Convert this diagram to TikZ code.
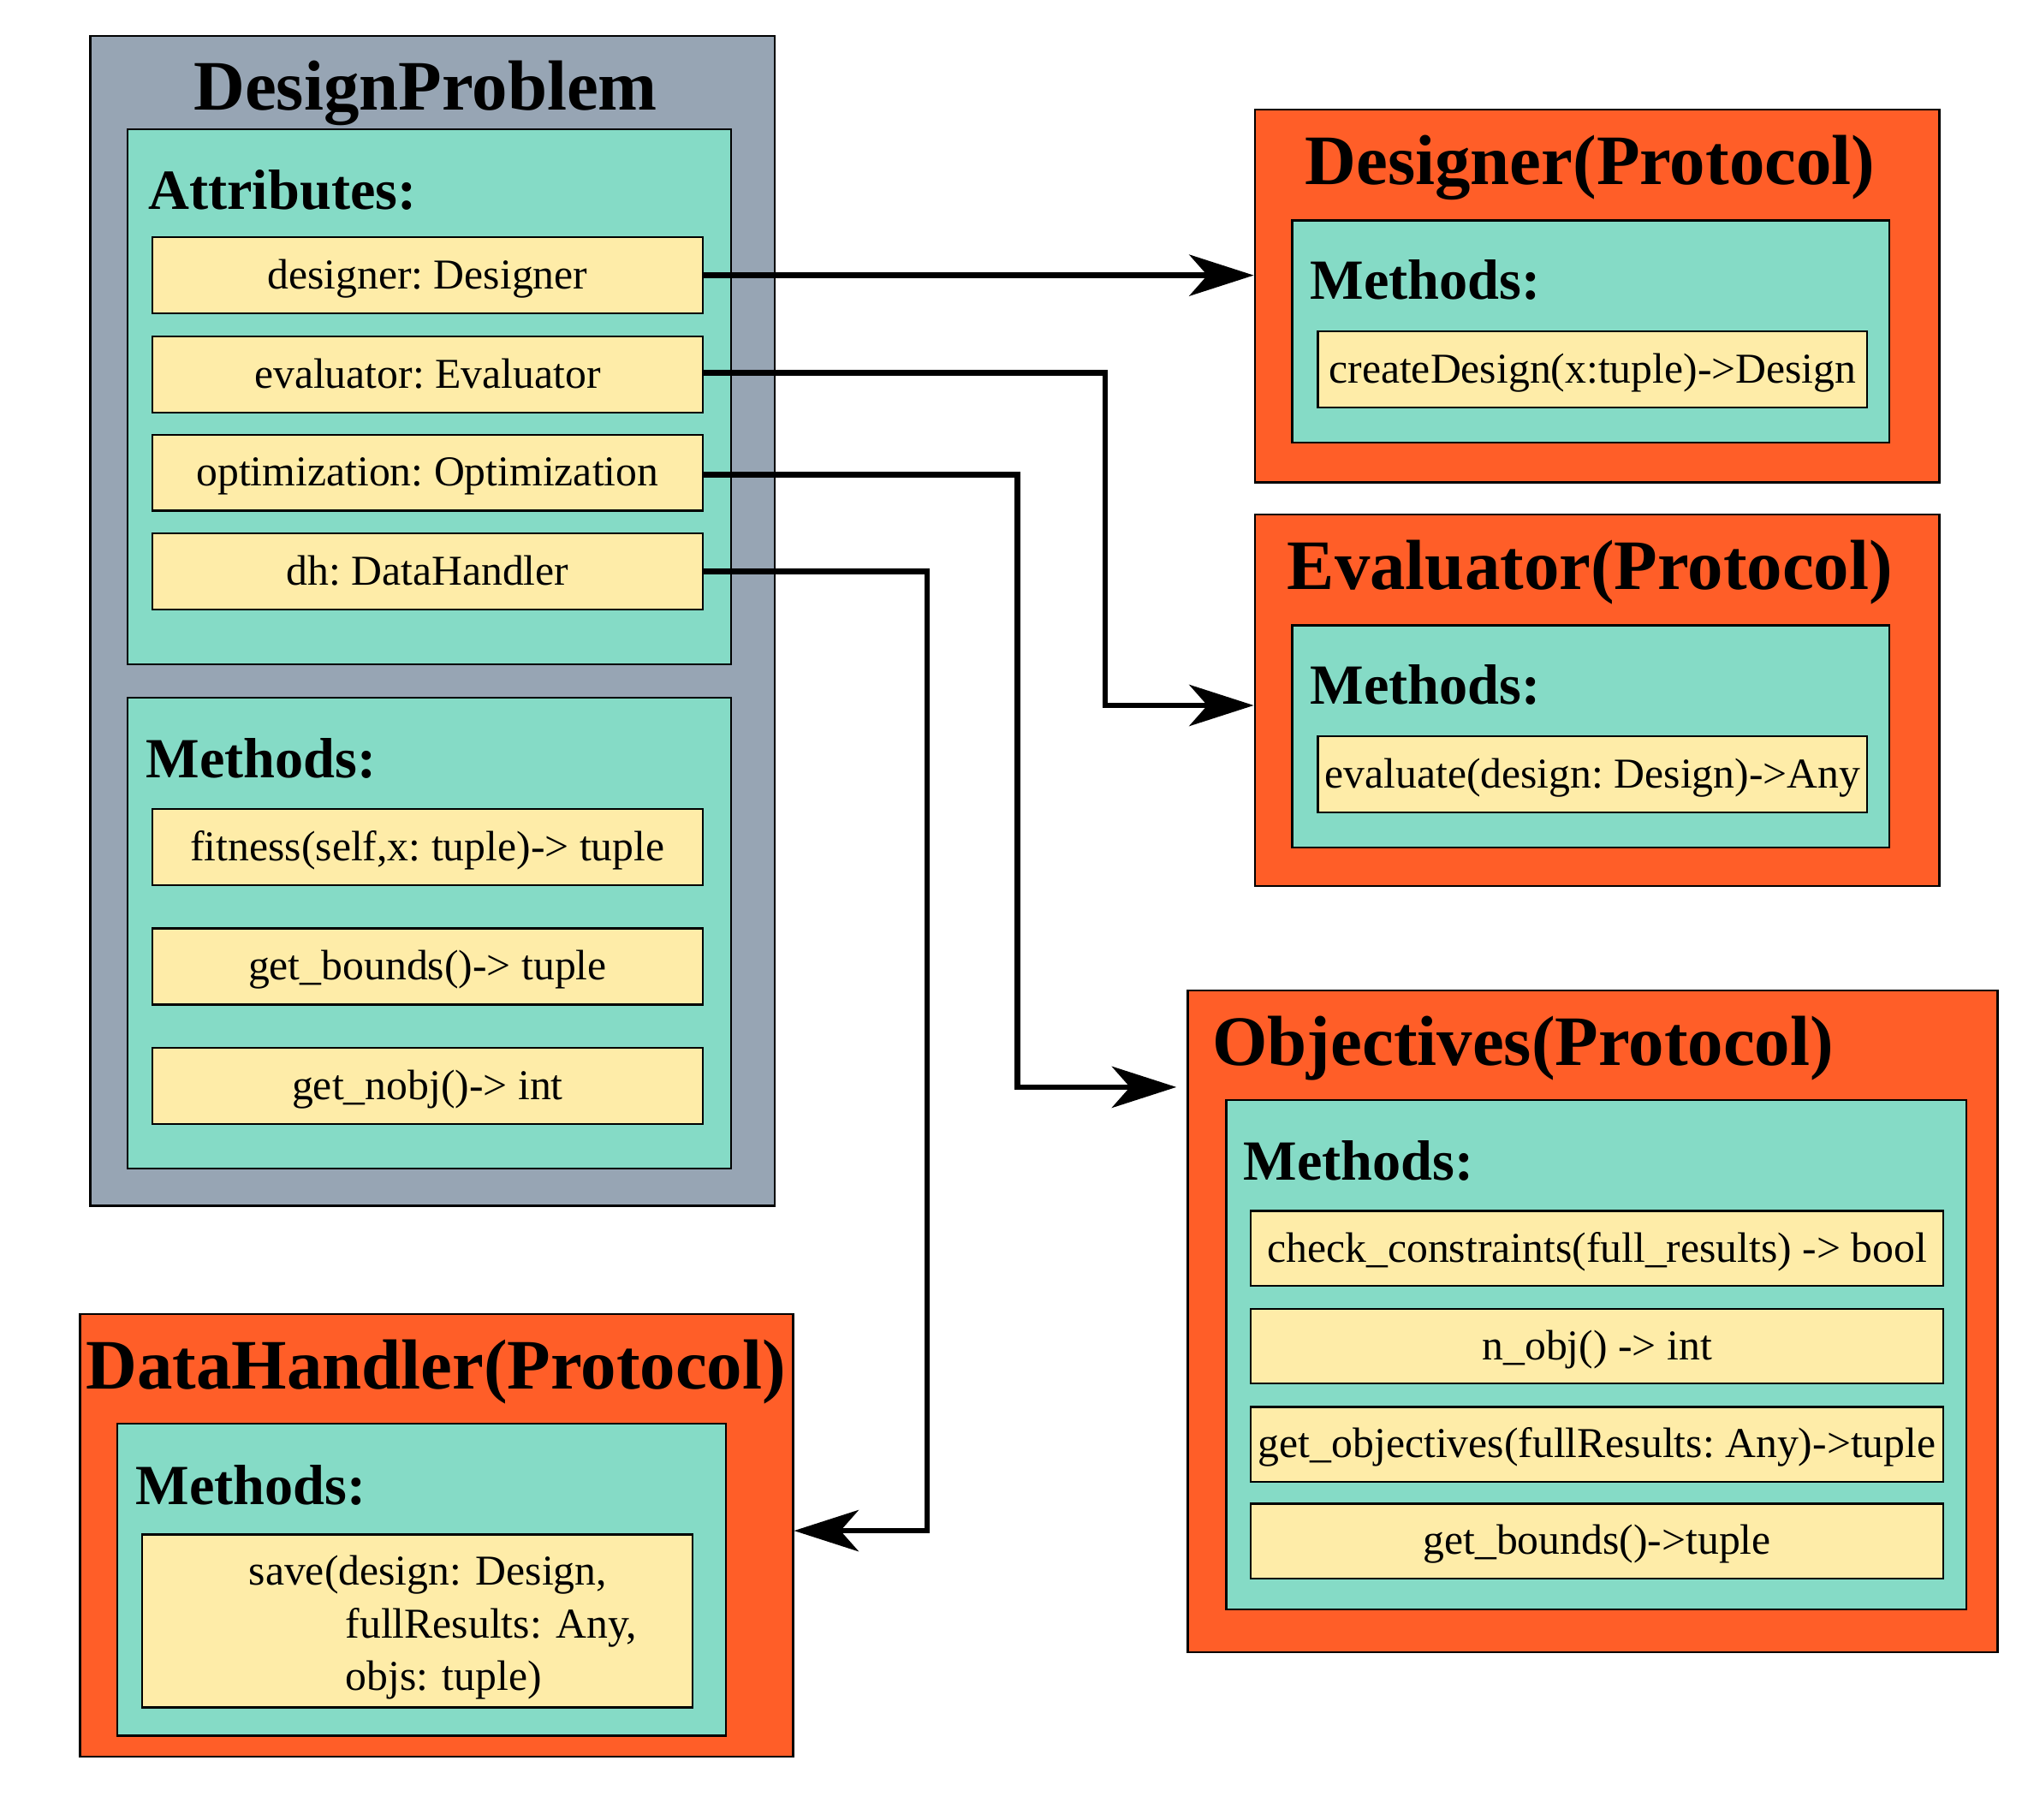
\documentclass[tikz,border=0pt]{standalone}
\usepackage{fontspec}
\setmainfont{Liberation Serif}
\usetikzlibrary{arrows.meta}
\frenchspacing
\definecolor{grayblue}{RGB}{151,165,180}
\definecolor{teal2}{RGB}{133,219,198}
\definecolor{cream}{RGB}{254,236,168}
\definecolor{orange2}{RGB}{255,94,40}
\tikzset{
  outerbox/.style={draw=black, line width=1.5pt, inner sep=0pt},
  grpbox/.style={draw=black, line width=1.5pt, fill=teal2, inner sep=0pt},
  itembase/.style={draw=black, line width=1.5pt, fill=cream, inner sep=0pt,
    font=\fontsize{33}{41}\selectfont},
  itembox/.style={itembase, text height=26pt, text depth=5pt},
  bodytext/.style={inner sep=0pt, font=\fontsize{33}{41}\selectfont},
  titletext/.style={inner sep=0pt, anchor=base, font=\fontsize{55}{60}\selectfont\bfseries},
  headtext/.style={inner sep=0pt, anchor=base west, font=\fontsize{44}{50}\selectfont\bfseries},
  conn/.style={draw=black, line width=4.5pt, -{Stealth[length=50pt,width=32pt,inset=14pt]}}
}
\begin{document}
\begin{tikzpicture}[x=1pt,y=-1pt]
\useasboundingbox (0,0) rectangle (1568,1411.2);
\fill[white] (0,0) rectangle (1568,1411.2);
% ---------- DesignProblem
\node[outerbox, fill=grayblue, minimum width=531pt, minimum height=907pt] (dp) at (335.5,481.5) {};
\node[titletext] (dpt) at (330,85) {DesignProblem};
\node[grpbox, minimum width=468pt, minimum height=415pt] (dpa) at (333,307.5) {};
\node[headtext] (dpah) at (115,162) {Attributes:};
\node[itembox, minimum width=427pt, minimum height=59pt] (a1) at (331.5,213.5) {designer: Designer};
\node[itembox, minimum width=427pt, minimum height=59pt] (a2) at (331.5,290.5) {evaluator: Evaluator};
\node[itembox, minimum width=427pt, minimum height=59pt] (a3) at (331.5,366.5) {optimization: Optimization};
\node[itembox, minimum width=427pt, minimum height=59pt] (a4) at (331.5,443) {dh: DataHandler};
\node[grpbox, minimum width=468pt, minimum height=365pt] (dpm) at (333,723.5) {};
\node[headtext] (dpmh) at (113,603) {Methods:};
\node[itembox, minimum width=427pt, minimum height=59pt] (m1) at (331.5,657) {fitness(self,x: tuple)-> tuple};
\node[itembox, minimum width=427pt, minimum height=59pt] (m2) at (331.5,749.5) {get\_bounds()-> tuple};
\node[itembox, minimum width=427pt, minimum height=59pt] (m3) at (331.5,842) {get\_nobj()-> int};
% ---------- Designer
\node[outerbox, fill=orange2, minimum width=531pt, minimum height=289pt] (dsg) at (1238.5,229.5) {};
\node[titletext] (dsgt) at (1233,143) {Designer(Protocol)};
\node[grpbox, minimum width=463pt, minimum height=172pt] (dsgm) at (1233.5,257) {};
\node[headtext] (dsgmh) at (1016,232) {Methods:};
\node[itembox, minimum width=426pt, minimum height=59pt] (dsg1) at (1235,286.5) {createDesign(x:tuple)->Design};
% ---------- Evaluator
\node[outerbox, fill=orange2, minimum width=531pt, minimum height=288pt] (evl) at (1238.5,543) {};
\node[titletext] (evlt) at (1233,457) {Evaluator(Protocol)};
\node[grpbox, minimum width=463pt, minimum height=172pt] (evlm) at (1233.5,571) {};
\node[headtext] (evlmh) at (1016,546) {Methods:};
\node[itembox, minimum width=426pt, minimum height=59pt] (evl1) at (1235,600.5) {evaluate(design: Design)->Any};
% ---------- Objectives
\node[outerbox, fill=orange2, minimum width=628pt, minimum height=513pt] (obj) at (1235,1024.5) {};
\node[titletext] (objt) at (1181,826) {Objectives(Protocol)};
\node[grpbox, minimum width=574pt, minimum height=395pt] (objm) at (1238,1050.5) {};
\node[headtext] (objmh) at (964,915) {Methods:};
\node[itembox, minimum width=537pt, minimum height=58pt] (o1) at (1238.5,968) {check\_constraints(full\_results) -> bool};
\node[itembox, minimum width=537pt, minimum height=58pt] (o2) at (1238.5,1044) {n\_obj() -> int};
\node[itembox, minimum width=537pt, minimum height=58pt] (o3) at (1238.5,1120) {get\_objectives(fullResults: Any)->tuple};
\node[itembox, minimum width=537pt, minimum height=58pt] (o4) at (1238.5,1195) {get\_bounds()->tuple};
% ---------- DataHandler
\node[outerbox, fill=orange2, minimum width=553pt, minimum height=343pt] (dh) at (338.5,1190.5) {};
\node[titletext] (dht) at (338,1077) {DataHandler(Protocol)};
\node[grpbox, minimum width=472pt, minimum height=242pt] (dhm) at (327,1225) {};
\node[headtext] (dhmh) at (105,1167) {Methods:};
\node[itembase, minimum width=427pt, minimum height=134pt] (dh1) at (323.5,1257) {};
\node[bodytext, text width=427pt, align=left] (dh1t) at (323.5,1262)
  {\hspace*{83pt}save(design: Design,\\\hspace*{158pt}fullResults: Any,\\\hspace*{158pt}objs: tuple)};
% ---------- connectors
\coordinate (b2) at (857,547);
\coordinate (b3) at (789,843);
\coordinate (b4) at (719,1187);
\draw[conn] (a1.east) -- (a1.east -| dsg.west);
\draw[conn] (a2.east |- 0,289) -| (b2) -- (b2 -| evl.west);
\draw[conn] (a3.east |- 0,368) -| (b3) -- ([xshift=-8pt]b3 -| obj.west);
\draw[conn] (a4.east) -| (b4) -- (b4 -| dh.east);
\end{tikzpicture}
\end{document}
